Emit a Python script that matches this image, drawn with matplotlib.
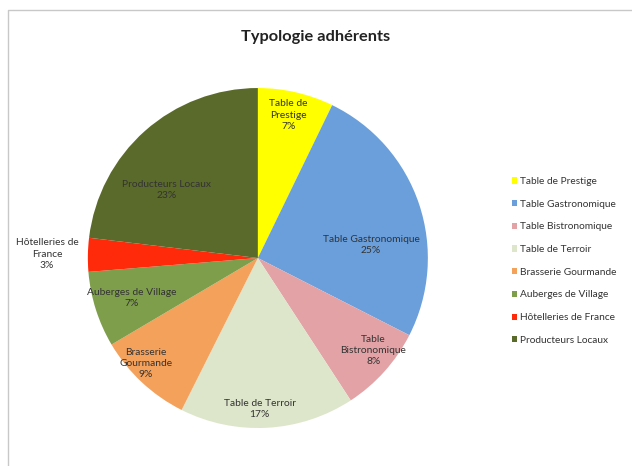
import matplotlib.pyplot as plt
from matplotlib.lines import Line2D
import numpy as np

# Typologie des adhérents
categories = ['Table de Prestige', 'Table Gastronomique', 'Table Bistronomique',
              'Table de Terroir', 'Brasserie Gourmande', 'Auberges de Village',
              'Hôtelleries de France', 'Producteurs Locaux']
values = [7.2, 25.3, 8.3, 16.6, 9.1, 7.2, 3.2, 23.1]
pct_labels = ['7%', '25%', '8%', '17%', '9%', '7%', '3%', '23%']
slice_labels = ['Table de\nPrestige', 'Table Gastronomique', 'Table\nBistronomique',
                'Table de Terroir', 'Brasserie\nGourmande', 'Auberges de Village',
                'Hôtelleries de\nFrance', 'Producteurs Locaux']

colors = ['#FFFF00', '#6A9FDC', '#E3A3A6', '#DDE6CB', '#F4A15C',
          '#7E9E4C', '#FF2A0A', '#5A6A2A']
# label placement (radius, angle shift in degrees) – like Excel "best fit"
label_r = [0.86, 0.67, 0.87, 0.89, 0.905, 0.78, 1.24, 0.67]
label_shift = [1, -12, 3.4, -2.6, -3.8, 0, 0, 12]

plt.rcParams['font.family'] = ['Lato', 'DejaVu Sans']

fig = plt.figure(figsize=(6.32, 4.66), dpi=100)
# chart frame: only top and left edges are visible in the crop
fig.lines.append(Line2D([0.012, 0.012, 1.0], [0.0, 0.978, 0.978], transform=fig.transFigure,
                        color='#C8C8C8', linewidth=1.0))

ax = fig.add_axes([0.139, 0.0815, 0.538, 0.7296])
wedges, _ = ax.pie(values, colors=colors, startangle=90, counterclock=False,
                   radius=1.0, wedgeprops=dict(linewidth=0))
ax.set_xlim(-1, 1)
ax.set_ylim(-1, 1)
ax.set_aspect('equal')

for w, lab, pct, r, s in zip(wedges, slice_labels, pct_labels, label_r, label_shift):
    mid = np.deg2rad((w.theta1 + w.theta2) / 2 + s)
    ax.text(r * np.cos(mid), r * np.sin(mid), lab + '\n' + pct,
            ha='center', va='center', fontsize=7.4, color='#333333',
            linespacing=1.3)

fig.text(0.5, 0.92, 'Typologie adhérents', ha='center', va='center',
         fontsize=11.8, fontweight='bold', color='#222222')

fig.legend(wedges, categories, loc='center left', bbox_to_anchor=(0.795, 0.44),
           frameon=False, fontsize=7.3, handlelength=0.55, handleheight=0.55,
           handletextpad=0.3, labelspacing=1.35, labelcolor='#333333')

fig.savefig('out.png', dpi=100)
